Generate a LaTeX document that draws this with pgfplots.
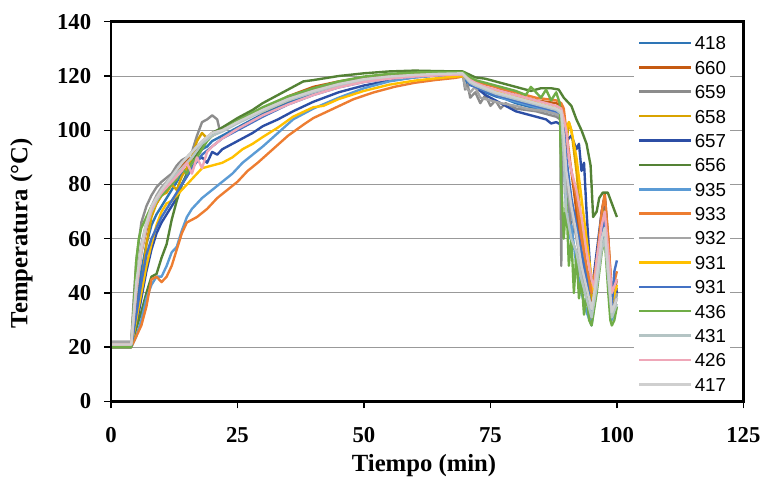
\documentclass[border=0pt]{standalone}
\usepackage{pgfplots}
\pgfplotsset{compat=1.18}
\usepackage{fontspec}
\setmainfont{Liberation Serif}
\newfontfamily\legfont{Liberation Sans}

\definecolor{c418}{HTML}{2E75B6}
\definecolor{c660}{HTML}{C55A11}
\definecolor{c659}{HTML}{8C8C8C}
\definecolor{c658}{HTML}{D9A300}
\definecolor{c657}{HTML}{2C4EA5}
\definecolor{c656}{HTML}{548235}
\definecolor{c935}{HTML}{5B9BD5}
\definecolor{c933}{HTML}{ED7D31}
\definecolor{c932}{HTML}{A5A5A5}
\definecolor{c931a}{HTML}{FFC000}
\definecolor{c931b}{HTML}{4472C4}
\definecolor{c436}{HTML}{70AD47}
\definecolor{c431}{HTML}{B4C4C4}
\definecolor{c426}{HTML}{EFA7B8}
\definecolor{c417}{HTML}{CFCFCF}

\begin{document}
\begin{tikzpicture}
\begin{axis}[
    scale only axis,
    width=319bp, height=191.5bp,
    xmin=0, xmax=125, ymin=0, ymax=140,
    xtick={0,25,...,125}, ytick={0,20,...,140},
    tick pos=left, tick align=outside,
    major tick length=3.5bp,
    axis line style={black, line width=1.5bp},
    tick style={black, line width=0.7bp},
    ymajorgrids,
    grid style={color=black!40, line width=0.5bp},
    /pgf/number format/assume math mode=true,
    tick label style={font=\bfseries\fontsize{11.5}{12}\selectfont},
    yticklabel style={xshift=-3bp},
    xticklabel style={yshift=-6bp},
    label style={font=\bfseries\fontsize{12.5}{13}\selectfont},
    xlabel={Tiempo (min)},
    ylabel={Temperatura (°C)},
    xlabel style={at={(axis description cs:0.495,-0.168)}, anchor=center},
    ylabel style={at={(axis description cs:-0.1418,0.4426)}, anchor=center},
    every axis plot/.append style={line width=1.2bp, line join=round},
    legend cell align=left,
    legend image code/.code={\draw[#1, line width=1.3bp] (0bp,0bp) -- (26bp,0bp);},
    legend style={at={(axis description cs:0.826,0.974)}, anchor=north west,
        draw=none, fill=white, inner sep=2bp, row sep=5.3bp, column sep=1.5bp,
        font=\legfont\fontsize{9.5}{10}\selectfont,
        nodes={inner sep=0pt, text height=7bp, text depth=0pt}},
]
\addplot[c418] coordinates {(0,21) (4,21) (4.5,28) (5,35) (6,48) (7,58) (8,65) (9,69) (10,72) (11,75) (12,78) (13,81) (14,84) (15,86) (16,88) (17,91) (18,93) (19,94) (20,96) (21,97) (22,98) (25,101) (28,104) (30,106) (33,108.5) (36,111) (40,113.5) (45,116) (50,118) (55,119.3) (60,120) (65,120.5) (69.5,121) (70.5,117) (72,116) (74,114) (76,112.5) (78,111.5) (80,110) (82,109) (84,108) (86,107) (88,106) (89,105) (89.5,90) (90,70) (90.5,80) (91,60) (92,70) (93,50) (94,40) (95,30) (96,45) (97,65) (97.6,72) (98.3,55) (99,31) (99.5,35) (100,40)};
\addlegendentry{418}
\addplot[c660] coordinates {(0,21) (4,21) (4.5,30) (5,40) (6,55) (7,63) (8,70) (9,73) (10,76) (11,79) (12,82) (13,85) (14,87) (15,89) (16,90) (17,93) (18,95) (19,97) (20,98) (22,100) (25,103) (28,106) (30,108) (33,110.5) (35,112.5) (40,116) (45,118) (50,119.5) (55,120.5) (60,121) (65,121.3) (69.5,121.5) (71,119) (72,118) (74,117) (76,116) (78,114.5) (80,113) (82,112) (84,111) (86,110.5) (88,110) (89,109) (89.5,104) (90,95) (91,85) (92,70) (93,55) (94,45) (95,35) (96,50) (97,70) (97.6,76.5) (98.3,60) (99,38) (99.5,40) (100,45)};
\addlegendentry{660}
\addplot[c659] coordinates {(0,22) (4,22) (4.5,38) (5,52) (6,66) (7,72) (8,76) (9,79) (10,81) (11,82.5) (12,84) (13,87) (14,89) (15,90) (16,92) (17,98) (18,103) (19,104) (20,105.5) (21,104) (21.5,100) (22,101) (25,104) (28,106.5) (30,108) (33,110.5) (35,112) (40,115) (45,117.5) (50,119) (55,120) (60,120.5) (65,121) (69.5,121) (70,115) (70.5,117) (71,112) (72,114) (73,110) (74,113) (75,109) (76,111) (77,108) (78,110) (80,108) (82,107.5) (84,107) (86,106) (88,105) (88.8,104) (89,50) (89.3,100) (90,85) (91,60) (92,55) (93,45) (94,38) (95,30) (96,48) (97,65) (97.6,70) (98.3,50) (99,32) (100,38)};
\addlegendentry{659}
\addplot[c658] coordinates {(0,21) (4,21) (5,30) (6,42) (7,58) (8,68) (9,73) (10,76) (11,77) (12,80) (13,78) (14,83) (15,86) (16,90) (17,96) (18,99) (19,97) (20,99) (22,100) (25,103) (28,105.5) (30,107) (35,111) (40,114.5) (45,117) (50,118.8) (55,119.8) (60,120.4) (65,120.8) (69.5,121) (71,118) (72,117) (74,115.5) (76,114) (78,113) (80,112) (82,111) (84,110) (86,109) (88,108) (89,107) (89.5,98) (90,95) (90.5,103) (91,100) (92,85) (93,65) (94,48) (95,38) (96,52) (97,68) (97.6,73) (98.3,55) (99,35) (100,42)};
\addlegendentry{658}
\addplot[c657] coordinates {(0,20) (4,20) (5,28) (6,38) (7,48) (8,56) (9,62) (10,66) (11,69) (12,72) (13,75) (14,80) (15,83) (16,86) (17,89) (18,90) (19,88) (20,92) (21,91) (22,93) (24,95) (26,97) (28,99) (30,101.5) (33,104) (36,107) (40,110.5) (45,114) (50,116.5) (55,118.3) (60,119.5) (65,120.3) (69.5,120.8) (71,117) (72,116) (74,113) (76,111) (78,109) (80,107) (82,106) (84,105) (86,104) (87,102.5) (88,103) (89,102) (89.5,100) (90,96) (91,98) (92,93) (92.5,95) (93,85) (93.5,88) (94,70) (95,40) (96,55) (97,70) (97.6,75) (98.3,58) (99,33) (99.5,45) (100,40)};
\addlegendentry{657}
\addplot[c656] coordinates {(0,20) (4,20) (5,27) (6,33) (7,40) (8,46) (9,47) (10,53) (11,58) (12,67) (13,74) (14,80) (15,84) (16,88) (18,94) (20,99) (22,101) (25,104.5) (28,107.5) (30,110) (33,113) (35,115) (38,118) (40,118.5) (45,120) (50,121) (55,121.7) (60,122) (65,121.8) (69.5,121.7) (72,119.5) (74,119) (76,118) (78,117) (80,116) (82,115) (83,114.5) (85,115.5) (87,115.5) (88.5,115) (89.5,112) (91,109) (92,104) (93,100) (94,95) (94.8,87) (95.3,68) (96,70) (96.5,75) (97.2,77) (98.2,77) (99,73) (100,68)};
\addlegendentry{656}
\addplot[c935] coordinates {(0,20) (4,20) (5,24) (6,30) (7,38) (8,43) (9,46) (10,46) (11,50) (12,55) (13,57) (14,63) (15,68) (16,71) (18,75) (20,78) (22,81) (24,84) (26,88) (28,91) (30,94) (33,99) (36,104) (40,108) (45,112) (50,115.5) (55,118) (60,119.5) (65,120.3) (69.5,120.7) (71,117) (72,116) (74,114.5) (76,113) (78,111.5) (80,110.5) (82,109.5) (84,108.5) (86,107.5) (88,106.5) (89,105) (89.5,95) (90,75) (90.5,60) (91,65) (92,50) (93,40) (94,33) (95,28) (96,42) (97,58) (97.6,62) (98.3,45) (99,30) (99.5,33) (100,35)};
\addlegendentry{935}
\addplot[c933] coordinates {(0,20) (4,20) (5,24) (6,28) (7,35) (8,45) (9,46) (10,44) (11,46) (12,50) (13,56) (14,62) (15,66) (17,68) (19,71) (21,75) (23,78) (25,81) (27,85) (29,88) (32,93) (35,98) (38,102) (40,104.5) (44,108) (48,111.5) (52,114) (56,116) (60,117.5) (64,118.5) (68,119.3) (69.5,119.8) (72,118) (74,117) (76,116) (78,115) (80,114) (82,113) (84,112) (86,111.5) (88,111) (89,110) (89.5,108) (90,100) (91,85) (92,75) (93,60) (94,50) (95,40) (96,52) (97,70) (97.6,76) (98.3,60) (99,40) (100,48)};
\addlegendentry{933}
\addplot[c932] coordinates {(0,22) (4,22) (5,45) (6,58) (7,66) (8,72) (9,76) (10,79) (12,83) (14,88) (16,92) (18,96) (20,99) (22,100) (25,103) (30,107.5) (35,111.5) (40,114.5) (45,117) (50,118.8) (55,119.8) (60,120.3) (65,120.7) (69.5,121) (70,116) (71,114) (72,116) (73,112) (75,111) (77,110) (80,109) (82,108) (84,107.5) (86,107) (88,106) (89,105) (89.5,95) (90,80) (91,70) (92,60) (93,50) (94,38) (95,32) (96,45) (97,60) (97.6,65) (98.3,48) (99,32) (100,40)};
\addlegendentry{932}
\addplot[c931a] coordinates {(0,20) (4,20) (5,30) (6,40) (7,50) (8,58) (9,65) (10,70) (11,73) (12,74) (13,76) (14,78) (15,80) (16,82) (17,84) (18,86) (19,86.5) (20,87) (22,88) (24,90) (26,93) (28,95) (30,97.5) (33,101) (36,105) (40,108.5) (42,109) (45,111.5) (50,114.5) (55,116.8) (60,118.3) (65,119.3) (69.5,120) (71,118) (72,117) (74,115.5) (76,114.5) (78,113) (80,112) (82,111) (84,110) (86,109) (88,108) (89,107) (89.5,104) (90,100) (90.5,103) (91,100) (91.5,95) (92,90) (93,75) (94,60) (95,45) (95.5,40) (96,52) (97,62) (97.6,66) (98.3,50) (99,36) (100,43)};
\addlegendentry{931}
\addplot[c931b] coordinates {(0,20) (4,20) (5,32) (6,44) (7,54) (8,60) (9,64) (10,68) (12,74) (14,80) (16,86) (18,91) (20,94) (22,97) (25,100) (30,105) (35,109.5) (40,113) (45,115.8) (50,117.8) (55,119) (60,119.8) (65,120.4) (69.5,120.8) (71,117) (72,116) (74,114.5) (76,113) (78,112) (80,111) (82,110) (84,109) (86,108) (88,107) (89,106) (89.5,100) (90,90) (91,75) (92,65) (93,55) (94,45) (95,33) (96,45) (97,62) (97.6,68) (98.3,50) (99,35) (99.5,48) (100,52)};
\addlegendentry{931}
\addplot[c436] coordinates {(0,20) (4,20) (4.5,35) (5,52) (5.5,60) (6,64) (7,68) (8,72) (9,74) (10,76) (11,78) (12,80) (13,82) (14,86) (15,84) (16,88) (17,90) (18,93) (19,96) (20,98) (22,100) (25,103.5) (30,108.5) (35,112.5) (40,115.5) (45,118) (50,119.8) (55,120.8) (60,121.3) (65,121.5) (69.5,121.5) (71,119.5) (72,118.5) (74,117.5) (76,116.5) (78,115.5) (80,114.5) (82,113) (83,116) (84,114) (85,112) (86,115) (87,111) (88,114) (88.7,110) (89,80) (89.5,60) (90,75) (90.5,50) (91,60) (91.5,40) (92,55) (92.5,38) (93,45) (93.5,32) (94,40) (94.5,30) (95,28) (96,40) (97,55) (97.6,60) (98.3,40) (98.7,30) (99,28) (99.5,30) (100,35)};
\addlegendentry{436}
\addplot[c431] coordinates {(0,21) (4,21) (5,40) (6,55) (7,64) (8,70) (9,74) (10,77) (12,82) (14,86) (16,90) (18,95) (20,98) (22,99.5) (25,102.5) (30,107) (35,111) (40,114) (45,116.5) (50,118.3) (55,119.4) (60,120) (65,120.4) (69.5,120.6) (71,117.5) (72,116.5) (74,115) (76,113.5) (78,112.5) (80,111.5) (82,110.5) (84,109.5) (86,108.5) (88,107.5) (89,106) (89.5,90) (90,70) (91,60) (92,55) (93,45) (94,38) (95,31) (96,42) (97,56) (97.6,60) (98.3,45) (99,31) (100,36)};
\addlegendentry{431}
\addplot[c426] coordinates {(0,21) (4,21) (5,42) (6,56) (7,65) (8,71) (9,75) (10,77) (12,81) (14,85) (15,88) (16,84) (17,90) (18,86) (19,92) (20,94) (22,97) (25,100.5) (30,105.5) (35,109.5) (40,113) (45,115.8) (50,117.8) (55,119) (60,119.8) (65,120.3) (69.5,120.6) (71,118.5) (72,117.5) (74,116) (76,115) (78,114) (80,113) (82,112) (84,111) (86,110) (88,109) (89,108) (89.5,104) (90,100) (90.5,90) (91,85) (92,78) (93,68) (94,55) (95,45) (95.5,42) (96,52) (97,65) (97.6,70) (98.3,55) (99,40) (100,45)};
\addlegendentry{426}
\addplot[c417] coordinates {(0,21) (4,21) (5,44) (6,57) (7,66) (8,72) (9,75) (10,78) (12,83) (14,88) (16,92) (18,96) (20,99) (22,100) (25,103) (30,107.5) (35,111.5) (40,114.5) (45,117) (50,118.8) (55,119.8) (60,120.4) (65,120.8) (69.5,121) (71,118) (72,117) (74,115.5) (76,114) (78,113) (80,112) (82,111) (84,110) (86,109) (88,108) (89,107) (89.5,98) (90,85) (91,72) (92,62) (93,50) (94,42) (95,34) (96,46) (97,60) (97.6,64) (98.3,48) (99,33) (100,38)};
\addlegendentry{417}
\coordinate (pbl) at (rel axis cs:0,0);
\coordinate (ptr) at (rel axis cs:1,1);
\coordinate (bbl) at (axis description cs:-0.1755,-0.2037);
\coordinate (btr) at (axis description cs:1.0266,1.0574);
\end{axis}
\draw[black, line width=1.5bp] (pbl) rectangle (ptr);
\path (bbl) rectangle (btr);
\end{tikzpicture}
\end{document}
